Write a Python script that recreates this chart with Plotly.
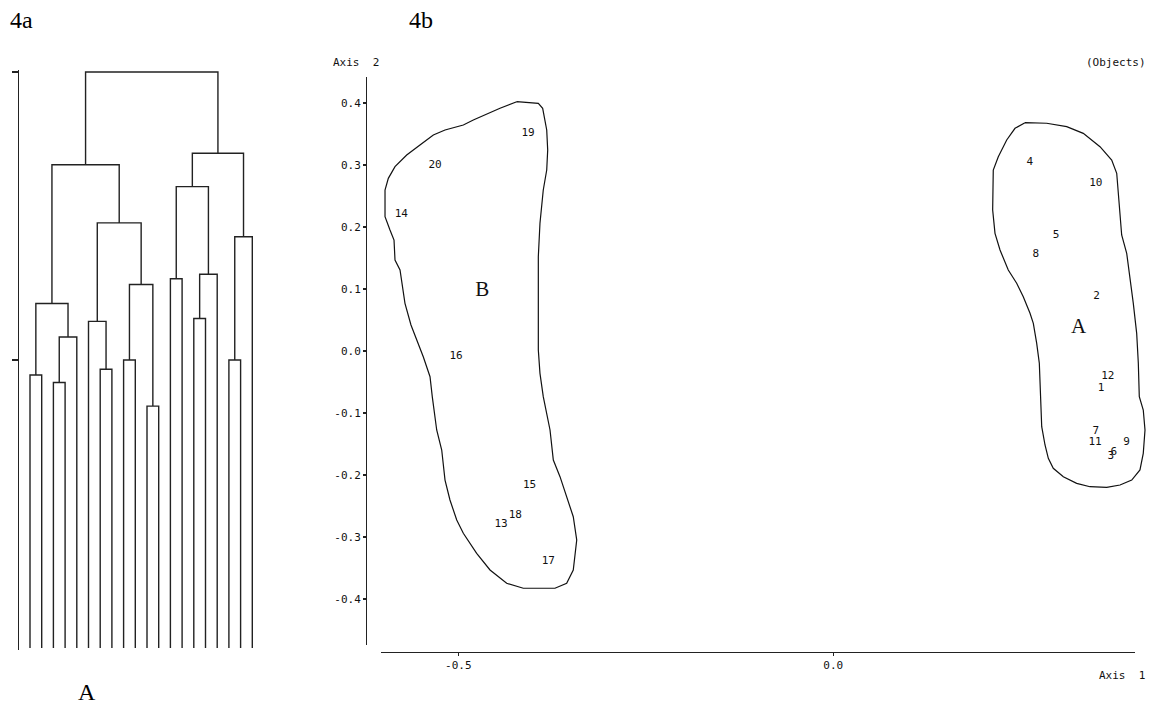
import plotly.graph_objects as go

W, H = 1153, 704

# ---------------- Data ----------------
# Dendrogram (4a): 20 leaves, merges as (left node, right node, height); leaves are 0..19,
# merge k creates node 20+k
merge_left = [0, 2, 21, 20, 6, 5, 8, 10, 26, 25, 23, 12, 14, 32, 31, 17, 35, 34, 30]
merge_right = [1, 3, 4, 22, 7, 24, 9, 11, 27, 28, 29, 13, 15, 16, 33, 18, 19, 36, 37]
merge_height = [0.474, 0.461, 0.540, 0.598, 0.484, 0.567, 0.500, 0.420, 0.631, 0.738,
                0.839, 0.641, 0.572, 0.649, 0.801, 0.500, 0.714, 0.859, 1.000]
n_leaves = 20
dendro_ticks = [0.5, 1.0]

# Ordination (4b): object scores
obj_labels = [str(i) for i in range(1, 21)]
axis1 = [0.357, 0.351, 0.370, 0.262, 0.297, 0.374, 0.350, 0.270, 0.391, 0.350,
         0.349, 0.366, -0.443, -0.576, -0.405, -0.503, -0.380, -0.424, -0.407, -0.531]
axis2 = [-0.060, 0.088, -0.169, 0.304, 0.186, -0.164, -0.129, 0.156, -0.147, 0.271,
         -0.147, -0.040, -0.280, 0.221, -0.217, -0.008, -0.339, -0.265, 0.351, 0.300]

group_names = ["A", "B"]
group_x = [0.327, -0.468]
group_y = [0.037, 0.097]

# Group outlines (data units)
outline_A_x = [0.2556, 0.2845, 0.3112, 0.3333, 0.3556, 0.3712, 0.3779, 0.3800, 0.3823, 0.3845,
               0.3912, 0.3956, 0.4000, 0.4045, 0.4067, 0.4080, 0.4133, 0.4156, 0.4133, 0.4089,
               0.3979, 0.3823, 0.3645, 0.3423, 0.3245, 0.3067, 0.2933, 0.2867, 0.2823, 0.2779,
               0.2765, 0.2756, 0.2747, 0.2712, 0.2667, 0.2623, 0.2533, 0.2445, 0.2333, 0.2223,
               0.2156, 0.2125, 0.2125, 0.2133, 0.2200, 0.2312, 0.2423, 0.2556]
outline_A_y = [0.3682, 0.3673, 0.3618, 0.3511, 0.3295, 0.3081, 0.2866, 0.2544, 0.2166, 0.1871,
               0.1576, 0.1198, 0.0769, 0.0285, -0.0198, -0.0737, -0.0952, -0.1274, -0.1650, -0.1919,
               -0.2081, -0.2161, -0.2198, -0.2189, -0.2134, -0.2027, -0.1892, -0.1731, -0.1516, -0.1221,
               -0.0844, -0.0415, -0.0198, 0.0124, 0.0447, 0.0608, 0.0876, 0.1092, 0.1306, 0.1629,
               0.1898, 0.2274, 0.2597, 0.2919, 0.3134, 0.3403, 0.3592, 0.3682]

outline_B_x = [-0.4221, -0.3933, -0.3875, -0.3821, -0.3808, -0.3821, -0.3867, -0.3911, -0.3933, -0.3933,
               -0.3933, -0.3911, -0.3867, -0.3777, -0.3733, -0.3644, -0.3555, -0.3467, -0.3421, -0.3444,
               -0.3467, -0.3555, -0.3711, -0.4133, -0.4355, -0.4577, -0.4755, -0.4933, -0.5021, -0.5111,
               -0.5177, -0.5221, -0.5288, -0.5347, -0.5377, -0.5467, -0.5555, -0.5631, -0.5711, -0.5755,
               -0.5777, -0.5844, -0.5857, -0.5911, -0.5977, -0.5977, -0.5933, -0.5844, -0.5688, -0.5511,
               -0.5333, -0.5177, -0.4933, -0.4800, -0.4621, -0.4444, -0.4221]
outline_B_y = [0.4021, 0.3995, 0.3915, 0.3565, 0.3242, 0.2919, 0.2597, 0.2060, 0.1521, 0.1092,
               0.0016, -0.0360, -0.0737, -0.1274, -0.1758, -0.2027, -0.2350, -0.2673, -0.3048, -0.3263,
               -0.3532, -0.3747, -0.3827, -0.3827, -0.3747, -0.3532, -0.3263, -0.2940, -0.2726, -0.2403,
               -0.2081, -0.1597, -0.1274, -0.0737, -0.0415, -0.0092, 0.0177, 0.0419, 0.0769, 0.1092,
               0.1306, 0.1468, 0.1790, 0.1952, 0.2166, 0.2597, 0.2785, 0.2973, 0.3161, 0.3323,
               0.3484, 0.3565, 0.3645, 0.3726, 0.3823, 0.3915, 0.4021]

y_tick_vals = [0.4, 0.3, 0.2, 0.1, 0.0, -0.1, -0.2, -0.3, -0.4]
y_tick_text = ["0.4", "0.3", "0.2", "0.1", "0.0", "-0.1", "-0.2", "-0.3", "-0.4"]
x_tick_vals = [-0.5, 0.0]
x_tick_text = ["-0.5", "0.0"]

# ---------------- Layout helpers ----------------
def px(x):
    return x / W

def py(y):
    return 1 - y / H

# dendrogram pixel mapping
LEAF0, LEAF_STEP = 30.0, 11.7
D_BASE, D_UNIT = 648.0, 576.0
# ordination pixel mapping
X0, XU = 833.3, 750.0
Y0, YU = 351.0, 620.0

def xval(p):
    return (p - X0) / XU

def yval(p):
    return (Y0 - p) / YU

# ---------------- Dendrogram lines ----------------
pos = list(range(n_leaves))
hgt = [0.0] * n_leaves
dx, dy = [], []
for l, r, h in zip(merge_left, merge_right, merge_height):
    x1, x2 = pos[l], pos[r]
    dx += [x1, x1, x2, x2, None]
    dy += [hgt[l], h, h, hgt[r], None]
    pos.append((x1 + x2) / 2)
    hgt.append(h)

LINE = "#222222"
mono = "DejaVu Sans Mono"
serif = "Liberation Serif"

fig = go.Figure()
fig.add_trace(go.Scatter(x=dx, y=dy, mode="lines", xaxis="x", yaxis="y",
                         line=dict(color=LINE, width=1.4), hoverinfo="skip", showlegend=False))

# outlines
fig.add_trace(go.Scatter(x=outline_A_x, y=outline_A_y, mode="lines", xaxis="x2", yaxis="y2",
                         line=dict(color="#111111", width=1.2), hoverinfo="skip", showlegend=False))
fig.add_trace(go.Scatter(x=outline_B_x, y=outline_B_y, mode="lines", xaxis="x2", yaxis="y2",
                         line=dict(color="#111111", width=1.2), hoverinfo="skip", showlegend=False))
# object numbers
fig.add_trace(go.Scatter(x=axis1, y=axis2, text=obj_labels, mode="text", xaxis="x2", yaxis="y2",
                         textposition="middle center",
                         textfont=dict(family=mono, size=11, color="#111111"),
                         hoverinfo="skip", showlegend=False))
# group letters
fig.add_trace(go.Scatter(x=group_x, y=group_y, text=group_names, mode="text", xaxis="x2", yaxis="y2",
                         textposition="middle center",
                         textfont=dict(family=serif, size=21, color="#111111"),
                         hoverinfo="skip", showlegend=False))
# dummy trace for visible axes
fig.add_trace(go.Scatter(x=[None], y=[None], xaxis="x3", yaxis="y3", mode="markers",
                         hoverinfo="skip", showlegend=False))

axis_common = dict(showgrid=False, zeroline=False, showline=True, linecolor=LINE,
                   linewidth=1.3, ticks="outside", tickcolor=LINE, tickwidth=1.3)

fig.update_layout(
    width=W, height=H, margin=dict(l=0, r=0, t=0, b=0),
    paper_bgcolor="white", plot_bgcolor="rgba(0,0,0,0)",
    xaxis=dict(domain=[0, px(280)], range=[(0 - LEAF0) / LEAF_STEP, (280 - LEAF0) / LEAF_STEP],
               visible=False, fixedrange=True),
    yaxis=dict(domain=[py(650), py(70)],
               range=[(D_BASE - 650) / D_UNIT, (D_BASE - 70) / D_UNIT],
               anchor="free", position=px(18), tickvals=dendro_ticks, ticklen=6,
               showticklabels=False, **axis_common),
    xaxis2=dict(domain=[px(366), 1], range=[xval(366), xval(W)], visible=False),
    yaxis2=dict(domain=[py(650), py(70)], range=[yval(650), yval(70)], visible=False,
                anchor="x2"),
    xaxis3=dict(domain=[px(381), px(1135)], range=[xval(381), xval(1135)],
                anchor="free", position=py(651.7), tickvals=x_tick_vals, ticktext=x_tick_text,
                ticklen=3, tickfont=dict(family=mono, size=11, color="#111111"), **axis_common),
    yaxis3=dict(domain=[py(645), py(77)], range=[yval(645), yval(77)],
                anchor="free", position=px(366), tickvals=y_tick_vals, ticktext=y_tick_text,
                ticklen=3, tickfont=dict(family=mono, size=11, color="#111111"), **axis_common),
    annotations=[
        dict(text="4a", x=px(8), y=py(20), xref="paper", yref="paper", xanchor="left",
             yanchor="middle", showarrow=False, font=dict(family=serif, size=24, color="black")),
        dict(text="4b", x=px(407), y=py(20), xref="paper", yref="paper", xanchor="left",
             yanchor="middle", showarrow=False, font=dict(family=serif, size=24, color="black")),
        dict(text="A", x=px(87), y=py(692), xref="paper", yref="paper", xanchor="center",
             yanchor="middle", showarrow=False, font=dict(family=serif, size=24, color="black")),
        dict(text="Axis\u00a0\u00a02", x=px(331), y=py(63), xref="paper", yref="paper",
             xanchor="left", yanchor="middle", showarrow=False,
             font=dict(family=mono, size=11, color="#111111")),
        dict(text="(Objects)", x=px(1148), y=py(63), xref="paper", yref="paper",
             xanchor="right", yanchor="middle", showarrow=False,
             font=dict(family=mono, size=11, color="#111111")),
        dict(text="Axis\u00a0\u00a01", x=px(1097), y=py(675), xref="paper", yref="paper",
             xanchor="left", yanchor="middle", showarrow=False,
             font=dict(family=mono, size=11, color="#111111")),
    ],
)

fig.write_html("out.html", config={"displayModeBar": False, "staticPlot": True},
               post_script="document.body.style.margin='0px';document.body.style.overflow='hidden';")
